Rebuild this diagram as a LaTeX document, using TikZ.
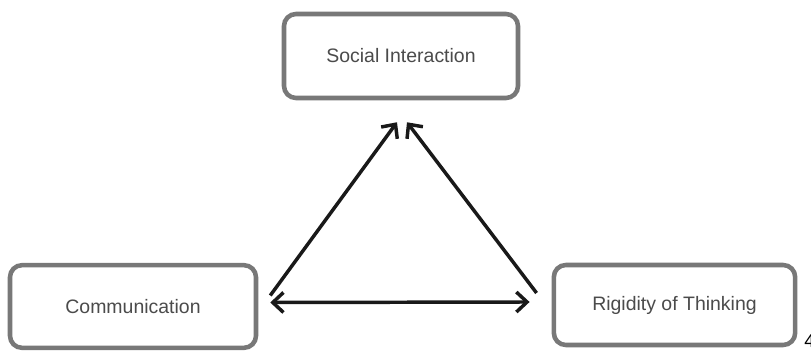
\documentclass[tikz,border=0pt]{standalone}
\usepackage{fontspec}
\setmainfont{Liberation Sans}
\usetikzlibrary{arrows.meta}
\definecolor{boxgray}{RGB}{120,120,120}
\definecolor{txtgray}{RGB}{75,75,75}
\definecolor{arrowblack}{RGB}{25,25,25}
\tikzset{
	factor/.style={draw=boxgray, line width=3.4pt, rounded corners=9pt, fill=white, text=txtgray, font=\fontsize{14.6}{16}\selectfont},
	link/.style={draw=arrowblack, line width=2.6pt, -{Straight Barb[length=8pt,width=15pt]}},
	twoway/.style={link, {Straight Barb[length=8pt,width=15pt]}-{Straight Barb[length=8pt,width=15pt]}}
}

\begin{document}
\begin{tikzpicture}[x=0.75pt,y=-0.75pt]
		\clip (0,0) rectangle (811,352);
		\node[factor, minimum width=175.5pt, minimum height=63pt] (social) at (401,56) {Social Interaction};
		\node[factor, minimum width=184.5pt, minimum height=62pt] (comm) at (133,306.5) {Communication};
		\node[factor, minimum width=181pt, minimum height=60pt] (rigid) at (674.5,305) {Rigidity of Thinking};
		\draw[link] ([shift={(12,-11)}]comm.east) -- ([shift={(-4,22)}]social.south);
		\draw[link] ([shift={(-15,-12)}]rigid.west) -- ([shift={(6,22)}]social.south);
		\draw[twoway] ([shift={(12,-4)}]comm.east) -- ([shift={(-22,-3)}]rigid.west);
		\node[anchor=west, font=\fontsize{14}{16}\selectfont, inner sep=0pt] (pagenum) at (804,341) {4};
	\end{tikzpicture}
\end{document}
